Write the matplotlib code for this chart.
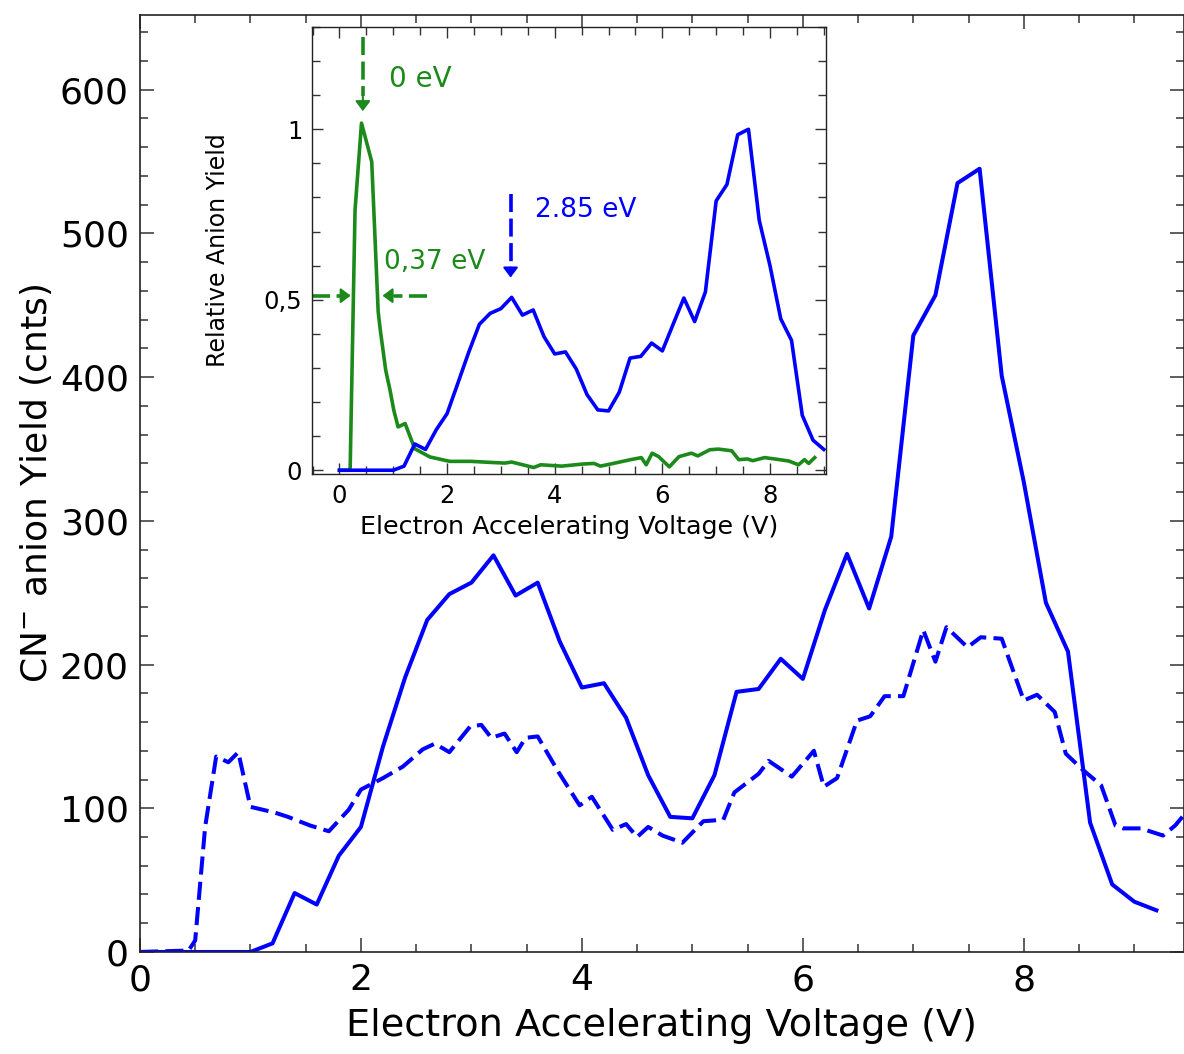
import numpy as np
import matplotlib.pyplot as plt
from matplotlib.ticker import MultipleLocator

plt.rcParams['font.family'] = ['DejaVu Sans']

BLUE = '#0000ff'
GREEN = '#1b8a1b'

# main panel: CN- counts, solid curve
solid_x = [0.0, 0.2, 0.4, 0.6, 0.8, 1.0, 1.2, 1.4, 1.6, 1.8, 2.0, 2.2, 2.4, 2.6, 2.8,
           3.0, 3.2, 3.4, 3.6, 3.8, 4.0, 4.2, 4.4, 4.6, 4.8, 5.0, 5.2, 5.4, 5.6, 5.8,
           6.0, 6.2, 6.4, 6.6, 6.8, 7.0, 7.2, 7.4, 7.6, 7.8, 8.0, 8.2, 8.4, 8.6, 8.8,
           9.0, 9.2]
solid_y = [0, 0, 0, 0, 0, 0, 6, 41, 33, 67, 87, 143, 191, 231, 249,
           257, 276, 248, 257, 216, 184, 187, 163, 123, 94, 93, 123, 181, 183, 204,
           190, 238, 277, 239, 289, 429, 457, 535, 545, 401, 327, 243, 209, 90, 47,
           35, 29]

# main panel: dashed curve
dash_x = [0, 0.44, 0.5, 0.59, 0.69, 0.8, 0.89, 1.0, 1.22, 1.34, 1.54, 1.71, 1.89, 2.0,
          2.2, 2.38, 2.56, 2.67, 2.8, 2.99, 3.09, 3.18, 3.3, 3.41, 3.49, 3.6, 3.79,
          3.98, 4.09, 4.28, 4.4, 4.5, 4.6, 4.73, 4.91, 5.1, 5.28, 5.38, 5.6, 5.69,
          5.9, 6.1, 6.19, 6.31, 6.49, 6.61, 6.74, 6.91, 7.09, 7.2, 7.3, 7.49, 7.61,
          7.8, 8.0, 8.12, 8.28, 8.38, 8.53, 8.7, 8.83, 8.9, 9.06, 9.26, 9.37, 9.5]
dash_y = [0, 1, 8, 87, 136, 132, 139, 101, 97, 94, 88, 84, 99, 113,
          121, 129, 141, 145, 139, 157, 158, 149, 152, 139, 149, 150, 125,
          102, 108, 85, 89, 80, 87, 81, 76, 91, 92, 111, 124, 133,
          122, 140, 115, 121, 161, 164, 178, 178, 224, 202, 226, 212, 219,
          218, 175, 179, 167, 138, 127, 116, 88, 86, 86, 81, 88, 100]

# inset: relative yields
rel_blue_x = [0.0, 0.2, 0.4, 0.6, 0.8, 1.0, 1.2, 1.4, 1.6, 1.8, 2.0, 2.2, 2.4, 2.6, 2.8,
              3.0, 3.2, 3.4, 3.6, 3.8, 4.0, 4.2, 4.4, 4.6, 4.8, 5.0, 5.2, 5.4, 5.6, 5.8,
              6.0, 6.2, 6.4, 6.6, 6.8, 7.0, 7.2, 7.4, 7.6, 7.8, 8.0, 8.2, 8.4, 8.6, 8.8,
              9.0]
rel_blue_y = [0, 0, 0, 0, 0, 0, 0.012, 0.077, 0.061, 0.119, 0.166, 0.255, 0.345, 0.428,
              0.46, 0.474, 0.507, 0.455, 0.47, 0.392, 0.341, 0.347, 0.297, 0.222, 0.177,
              0.174, 0.229, 0.329, 0.334, 0.373, 0.35, 0.428, 0.505, 0.436, 0.523, 0.79,
              0.838, 0.984, 1.0, 0.733, 0.60, 0.444, 0.381, 0.161, 0.088, 0.061]

rel_green_x = [0, 0.19, 0.2, 0.29, 0.41, 0.60, 0.72, 0.76, 0.81, 0.86, 0.94, 1.01, 1.09,
               1.22, 1.40, 1.68, 2.05, 2.45, 2.8, 3.07, 3.2, 3.61, 3.74, 4.13, 4.51,
               4.73, 4.85, 5.03, 5.41, 5.61, 5.7, 5.81, 5.93, 6.13, 6.31, 6.54, 6.66,
               6.88, 7.04, 7.29, 7.42, 7.58, 7.68, 7.9, 8.09, 8.35, 8.53, 8.64, 8.72,
               8.83]
rel_green_y = [0, 0, 0.01, 0.763, 1.018, 0.905, 0.465, 0.41, 0.352, 0.293, 0.235, 0.176,
               0.127, 0.137, 0.063, 0.039, 0.026, 0.026, 0.023, 0.021, 0.024, 0.008,
               0.016, 0.012, 0.018, 0.02, 0.012, 0.018, 0.031, 0.037, 0.016, 0.05, 0.04,
               0.01, 0.04, 0.05, 0.042, 0.06, 0.062, 0.057, 0.031, 0.033, 0.028, 0.037,
               0.033, 0.027, 0.016, 0.031, 0.02, 0.037]

fig = plt.figure(figsize=(11.84, 10.54), dpi=100)
ax = fig.add_axes([0.1182, 0.0968, 0.8818, 0.889])

ax.plot(dash_x, dash_y, color=BLUE, lw=2.9, dashes=(4.5, 1.8))
ax.plot(solid_x, solid_y, color=BLUE, lw=2.9)

ax.set_xlim(0, 9.45)
ax.set_ylim(0, 652)
ax.xaxis.set_major_locator(MultipleLocator(2))
ax.xaxis.set_minor_locator(MultipleLocator(0.5))
ax.yaxis.set_major_locator(MultipleLocator(100))
ax.yaxis.set_minor_locator(MultipleLocator(20))
ax.tick_params(which='both', direction='in', top=True, right=True,
               color='#333333', width=1.1, labelsize=26)
ax.tick_params(which='major', length=10, pad=8)
ax.tick_params(which='minor', length=5.5)
for s in ax.spines.values():
    s.set_linewidth(1.2)
    s.set_color('#222222')
ax.set_xlabel('Electron Accelerating Voltage (V)', fontsize=27.5, labelpad=8)
ax.set_ylabel('CN$^{-}$ anion Yield (cnts)', fontsize=26, labelpad=4)

# inset
ins = fig.add_axes([0.2635, 0.5503, 0.4341, 0.4241])
ins.set_facecolor('white')
ins.plot(rel_green_x, rel_green_y, color=GREEN, lw=2.6)
ins.plot(rel_blue_x, rel_blue_y, color=BLUE, lw=2.6)
ins.set_xlim(-0.51, 9.04)
ins.set_ylim(-0.011, 1.30)
ins.xaxis.set_major_locator(MultipleLocator(2))
ins.xaxis.set_minor_locator(MultipleLocator(0.5))
ins.set_yticks([0, 0.5, 1])
ins.set_yticklabels(['0', '0,5', '1'])
ins.yaxis.set_minor_locator(MultipleLocator(0.1))
ins.tick_params(which='both', direction='in', top=True, right=True,
                color='#333333', width=1.0, labelsize=17.5)
ins.tick_params(which='major', length=8, pad=7)
ins.tick_params(which='minor', length=6)
for s in ins.spines.values():
    s.set_linewidth(1.0)
    s.set_color('#222222')
ins.set_xlabel('Electron Accelerating Voltage (V)', fontsize=18.3, labelpad=5)
ins.set_ylabel('Relative Anion Yield', fontsize=17, labelpad=24)

# annotations in the inset
peak_arrow = (0.435, 1.27, 1.053)     # x, y top, y tip
fwhm_y = 0.512
fwhm_left = (-0.51, 0.21)
fwhm_right = (1.63, 0.80)
blue_arrow = (3.18, 0.811, 0.565)
head = dict(arrowstyle='-|>,head_width=0.45,head_length=0.6', lw=1.5)


def dashed_arrow(axis, x0, y0, x1, y1, color, frac):
    xm = x1 + (x0 - x1) * frac
    ym = y1 + (y0 - y1) * frac
    axis.plot([x0, xm], [y0, ym], color=color, lw=2.6, dashes=(5, 1.8),
              solid_capstyle='butt', dash_capstyle='butt')
    axis.annotate('', xy=(x1, y1), xytext=(xm, ym),
                  arrowprops=dict(head, color=color, shrinkA=0, shrinkB=0))


dashed_arrow(ins, peak_arrow[0], peak_arrow[1], peak_arrow[0], peak_arrow[2], GREEN, 0.2)
dashed_arrow(ins, fwhm_left[0], fwhm_y, fwhm_left[1], fwhm_y, GREEN, 0.25)
dashed_arrow(ins, fwhm_right[0], fwhm_y, fwhm_right[1], fwhm_y, GREEN, 0.25)
dashed_arrow(ins, blue_arrow[0], blue_arrow[1], blue_arrow[0], blue_arrow[2], BLUE, 0.12)

ins.text(0.92, 1.148, '0 eV', color=GREEN, fontsize=20, va='center')
ins.text(0.82, 0.612, '0,37 eV', color=GREEN, fontsize=19, va='center')
ins.text(3.63, 0.762, '2.85 eV', color=BLUE, fontsize=19, va='center')

plt.savefig('out.png', dpi=100)
